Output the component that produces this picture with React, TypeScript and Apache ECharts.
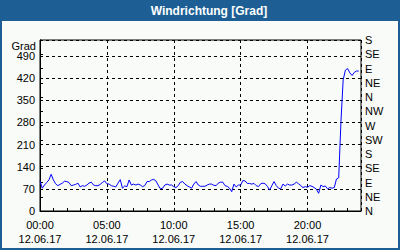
import React, { useEffect, useRef } from 'react';
import * as echarts from 'echarts';

const TITLE = 'Windrichtung [Grad]';
const UNIT = 'Grad';
const DATE = '12.06.17';
const STEP_HOURS = 1 / 6; // one value every 10 minutes, starting 00:00

const windDir = [
  95, 72, 82, 90, 98, 116, 98, 86, 80, 84, 88, 94, 93, 90, 80, 82, 84, 88, 76, 80,
  78, 82, 88, 91, 82, 80, 80, 84, 90, 95, 86,
  85, 80, 78, 76, 88, 99, 72, 79, 77, 98, 82, 85, 82, 85, 82, 77, 80, 93, 93, 98,
  100, 95, 82, 70, 72, 82, 85, 82, 82, 77,
  74, 80, 91, 93, 85, 80, 76, 72, 85, 93, 82, 78, 78, 78, 82, 85, 85, 81, 80, 88,
  91, 91, 80, 78, 72, 61, 85, 76, 82,
  82, 96, 95, 87, 87, 85, 87, 80, 77, 86, 88, 86, 78, 66, 80, 93, 80, 72, 70, 85,
  79, 85, 82, 82, 85, 91, 86, 80, 74, 77,
  75, 80, 78, 74, 69, 56, 82, 77, 79, 70, 74, 72, 74, 101, 105, 282, 414, 445, 450, 436,
  428, 438, 442, 442,
];

const compass = ['N', 'NE', 'E', 'SE', 'S', 'SW', 'W', 'NW', 'N', 'NE', 'E', 'SE', 'S'];

const X_MIN = 0;
const X_MAX = 24;
const X_LABEL_STEP = 5;
const Y_MIN = 0;
const Y_MAX = 540;
const Y_LEFT_STEP = 70;
const Y_RIGHT_STEP = 45;

export default function App() {
  const ref = useRef<HTMLDivElement>(null);

  useEffect(() => {
    const chart = echarts.init(ref.current!, null, { renderer: 'svg' });
    const font = 'Liberation Sans';
    const blue = '#1d5f95';
    const data = windDir.map((v, i) => [i * STEP_HOURS, v]);
    const pad = (n: number) => (n < 10 ? '0' + n : '' + n);

    chart.setOption({
      animation: false,
      backgroundColor: '#f8fbf8',
      textStyle: { fontFamily: font },
      grid: {
        left: 40,
        right: 39,
        top: 40,
        bottom: 39,
        show: true,
        borderColor: '#000',
        borderWidth: 1,
        backgroundColor: 'transparent',
      },
      xAxis: [
        {
          type: 'value',
          min: X_MIN,
          max: X_MAX,
          interval: X_LABEL_STEP,
          position: 'bottom',
          axisLine: { show: true, lineStyle: { color: '#000', width: 1 } },
          axisTick: { show: false },
          splitLine: { show: true, lineStyle: { color: '#000', width: 1, type: [3, 3] } },
          axisLabel: {
            color: '#000',
            fontFamily: font,
            fontSize: 11,
            lineHeight: 14,
            margin: 7,
            showMaxLabel: false,
            formatter: (v: number) => pad(v) + ':00\n' + DATE,
          },
        },
        {
          type: 'value',
          min: X_MIN,
          max: X_MAX,
          interval: 1,
          position: 'bottom',
          axisLine: { show: false },
          axisTick: { show: true, inside: true, length: 3, lineStyle: { color: '#000', width: 1 } },
          axisLabel: { show: false },
          splitLine: { show: false },
        },
      ],
      yAxis: [
        {
          type: 'value',
          min: Y_MIN,
          max: Y_MAX,
          interval: Y_LEFT_STEP,
          position: 'left',
          axisLine: { show: true, lineStyle: { color: '#000', width: 1 } },
          axisTick: { show: false },
          splitLine: { show: true, lineStyle: { color: '#000', width: 1, type: [3, 3] } },
          axisLabel: {
            color: '#000',
            fontFamily: font,
            fontSize: 11,
            margin: 5,
            showMaxLabel: false,
            formatter: (v: number) => String(v),
          },
        },
        {
          type: 'value',
          min: Y_MIN,
          max: Y_MAX,
          interval: Y_RIGHT_STEP,
          position: 'right',
          axisLine: { show: true, lineStyle: { color: '#000', width: 1 } },
          axisTick: { show: true, inside: false, length: 3, lineStyle: { color: '#000', width: 1 } },
          splitLine: { show: false },
          axisLabel: {
            color: '#000',
            fontFamily: font,
            fontSize: 11,
            margin: 4,
            formatter: (v: number) => compass[Math.round(v / Y_RIGHT_STEP)] ?? '',
          },
        },
      ],
      series: [
        {
          type: 'line',
          xAxisIndex: 0,
          yAxisIndex: 0,
          data,
          showSymbol: false,
          symbol: 'none',
          lineStyle: { color: '#0000ff', width: 1 },
          itemStyle: { color: '#0000ff' },
        },
      ],
      graphic: [
        {
          type: 'rect',
          shape: { x: 0, y: 0, width: 400, height: 21 },
          style: { fill: blue },
          silent: true,
        },
        {
          type: 'rect',
          shape: { x: 1, y: 1, width: 398, height: 248 },
          style: { fill: 'none', stroke: blue, lineWidth: 2 },
          silent: true,
        },
        {
          type: 'text',
          x: 209,
          y: 11,
          style: {
            text: TITLE,
            fill: '#fff',
            font: 'bold 12px "Liberation Sans"',
            textAlign: 'center',
            textVerticalAlign: 'middle',
          },
          silent: true,
        },
        {
          type: 'text',
          x: 36,
          y: 46,
          style: {
            text: UNIT,
            fill: '#000',
            font: '11px "Liberation Sans"',
            textAlign: 'right',
            textVerticalAlign: 'middle',
          },
          silent: true,
        },
      ],
    });

    return () => chart.dispose();
  }, []);

  return (
    <div
      ref={ref}
      style={{ position: 'absolute', left: 0, top: 0, width: 400, height: 250 }}
    />
  );
}
